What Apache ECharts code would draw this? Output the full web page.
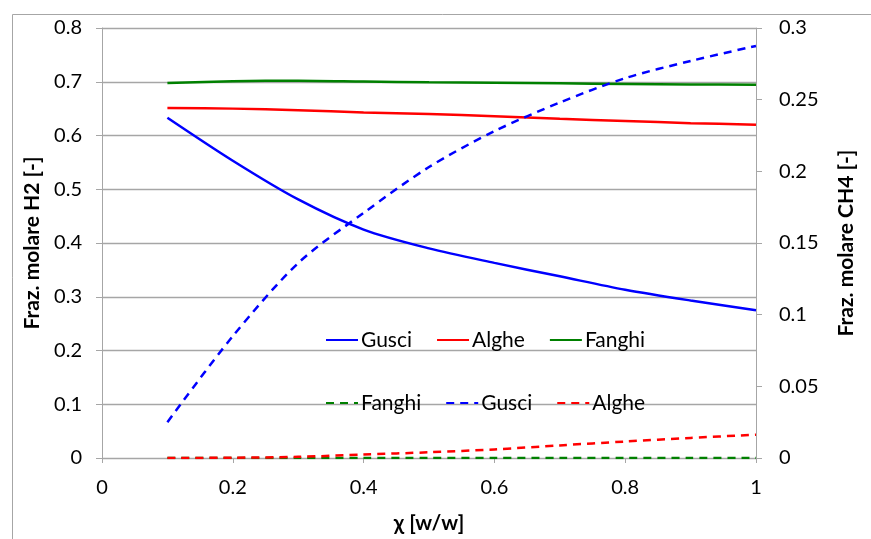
<!DOCTYPE html>
<html>
<head>
<meta charset="utf-8">
<script src="https://cdn.jsdelivr.net/npm/echarts@6/dist/echarts.min.js"></script>
<style>
html,body{margin:0;padding:0;background:#fff;}
#c{width:871px;height:539px;}
</style>
</head>
<body>
<div id="c"></div>
<script>
const xValues = [0.1, 0.2, 0.3, 0.4, 0.5, 0.6, 0.7, 0.8, 0.9, 1.0];
// H2 molar fraction (left axis)
const gusciH2  = [0.633, 0.553, 0.481, 0.425, 0.390, 0.363, 0.338, 0.313, 0.293, 0.275];
const algheH2  = [0.651, 0.650, 0.647, 0.643, 0.640, 0.636, 0.631, 0.627, 0.623, 0.620];
const fanghiH2 = [0.6975, 0.701, 0.702, 0.7005, 0.699, 0.698, 0.697, 0.696, 0.695, 0.6945];
// CH4 molar fraction (right axis)
const fanghiCH4 = [0, 0, 0, 0, 0, 0, 0, 0, 0, 0];
const gusciCH4  = [0.025, 0.085, 0.136, 0.171, 0.203, 0.228, 0.248, 0.265, 0.277, 0.2875];
const algheCH4  = [0, 0.0002, 0.0008, 0.0024, 0.004, 0.006, 0.0088, 0.0115, 0.014, 0.0163];

const leftTicks = { min: 0, max: 0.8, interval: 0.1 };
const rightTicks = { min: 0, max: 0.3, interval: 0.05 };
const xTicks = { min: 0, max: 1, interval: 0.2 };

const FONT = 'Lato, "Open Sans", sans-serif';
const BLUE = '#0000FF', RED = '#FF0000', GREEN = '#008000';
const pairs = arr => xValues.map((x, i) => [x, arr[i]]);

function solid(name, color, data) {
  return { name, type: 'line', yAxisIndex: 0, data: pairs(data), smooth: 0.3,
    symbol: 'none', lineStyle: { color, width: 2.5 }, itemStyle: { color } };
}
function dashed(name, color, data) {
  return { name, type: 'line', yAxisIndex: 1, data: pairs(data), smooth: 0.3,
    symbol: 'none', lineStyle: { color, width: 2.5, type: [8, 6] }, itemStyle: { color } };
}

const chart = echarts.init(document.getElementById('c'), null, { renderer: 'canvas' });
const axisLineStyle = { show: true, lineStyle: { color: '#A6A6A6', width: 1 } };
const legendCommon = {
  orient: 'horizontal', itemWidth: 32, itemHeight: 3, itemGap: 24, padding: 0,
  itemStyle: { opacity: 0 },
  textStyle: { fontFamily: FONT, fontSize: 21, lineHeight: 22, color: '#000', padding: [0, 0, 0, -2] },
  selectedMode: false, backgroundColor: 'transparent'
};
chart.setOption({
  animation: false,
  backgroundColor: '#fff',
  grid: { left: 102, right: 115, top: 28, bottom: 80, containLabel: false },
  graphic: [{
    type: 'rect', left: 10, top: 12, z: -1,
    shape: { x: 0, y: 0, width: 900, height: 600 },
    style: { fill: 'none', stroke: '#A6A6A6', lineWidth: 1 }
  }],
  legend: [
    Object.assign({}, legendCommon, {
      left: 325, top: 329,
      data: ['Gusci H2', 'Alghe H2', 'Fanghi H2'],
      formatter: n => n.replace(' H2', '')
    }),
    Object.assign({}, legendCommon, {
      left: 325, top: 392,
      data: ['Fanghi CH4', 'Gusci CH4', 'Alghe CH4'],
      formatter: n => n.replace(' CH4', '')
    })
  ],
  xAxis: {
    type: 'value', min: xTicks.min, max: xTicks.max, interval: xTicks.interval,
    name: 'χ [w/w]', nameLocation: 'middle', nameGap: 55,
    nameTextStyle: { fontFamily: FONT, fontSize: 21, fontWeight: 'bold', color: '#000' },
    axisLine: axisLineStyle,
    axisTick: { show: true, inside: false, length: 5, lineStyle: { color: '#A6A6A6' } },
    axisLabel: { fontFamily: FONT, fontSize: 20, color: '#000', margin: 20 },
    splitLine: { show: false }
  },
  yAxis: [{
    type: 'value', position: 'left', min: leftTicks.min, max: leftTicks.max, interval: leftTicks.interval,
    name: 'Fraz. molare H2 [-]', nameLocation: 'middle', nameGap: 56, nameRotate: 90,
    nameTextStyle: { fontFamily: FONT, fontSize: 21, fontWeight: 'bold', color: '#000' },
    axisLine: axisLineStyle,
    axisTick: { show: true, inside: false, length: 6, lineStyle: { color: '#A6A6A6' } },
    axisLabel: { fontFamily: FONT, fontSize: 20, color: '#000', margin: 20 },
    splitLine: { show: true, lineStyle: { color: '#A6A6A6', width: 1.3 } }
  }, {
    type: 'value', position: 'right', min: rightTicks.min, max: rightTicks.max, interval: rightTicks.interval,
    name: 'Fraz. molare CH4 [-]', nameLocation: 'middle', nameGap: 80, nameRotate: 90,
    nameTextStyle: { fontFamily: FONT, fontSize: 21, fontWeight: 'bold', color: '#000' },
    axisLine: axisLineStyle,
    axisTick: { show: true, inside: false, length: 6, lineStyle: { color: '#A6A6A6' } },
    axisLabel: { fontFamily: FONT, fontSize: 20, color: '#000', margin: 23 },
    splitLine: { show: false }
  }],
  series: [
    solid('Gusci H2', BLUE, gusciH2),
    solid('Alghe H2', RED, algheH2),
    solid('Fanghi H2', GREEN, fanghiH2),
    dashed('Fanghi CH4', GREEN, fanghiCH4),
    dashed('Gusci CH4', BLUE, gusciCH4),
    dashed('Alghe CH4', RED, algheCH4)
  ]
});
</script>
</body>
</html>
